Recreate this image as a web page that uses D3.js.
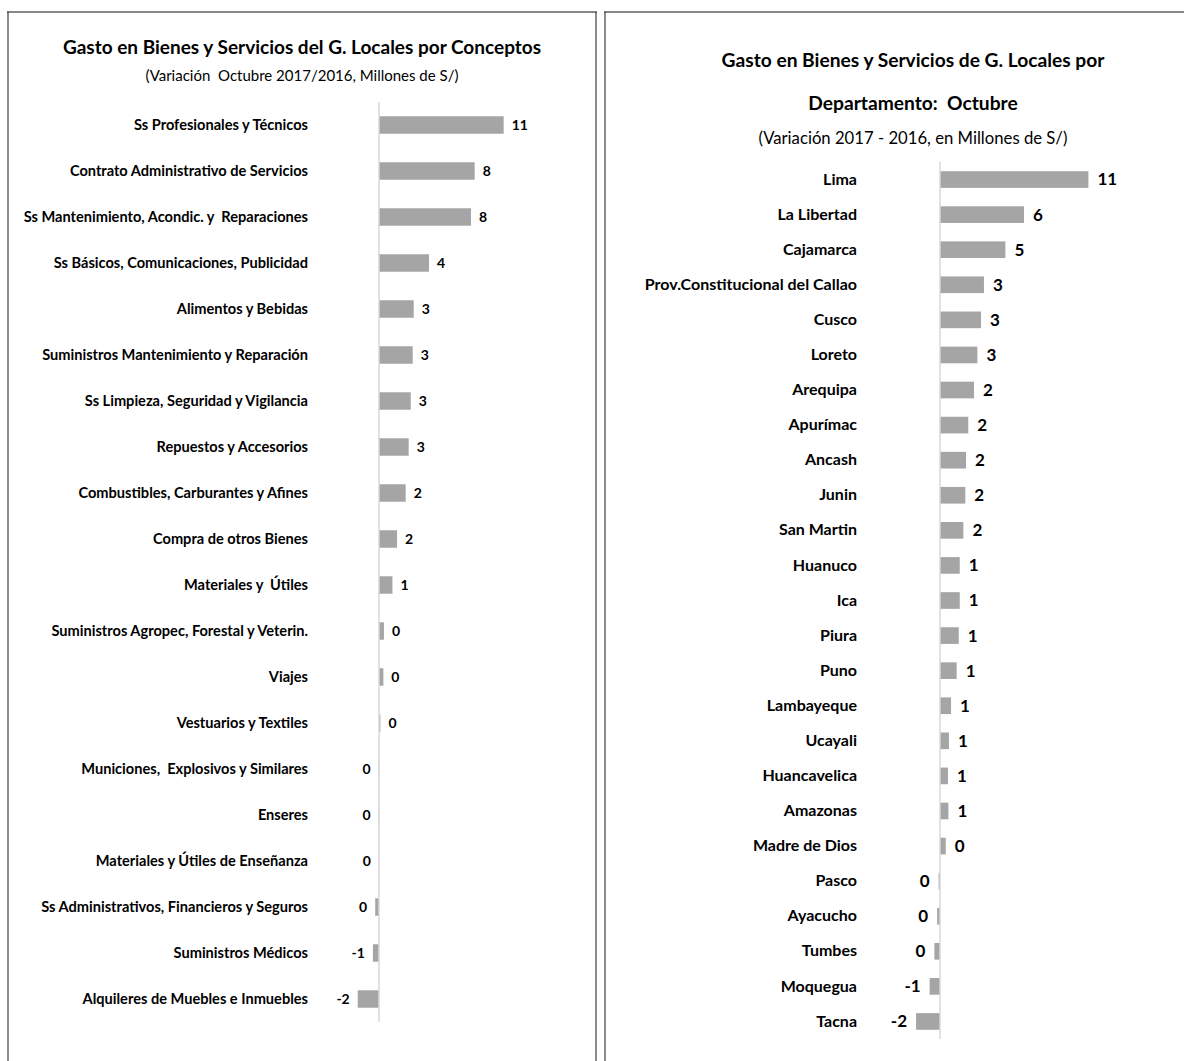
<!DOCTYPE html>
<html>
<head>
<meta charset="utf-8">
<script src="https://cdn.jsdelivr.net/npm/d3@7"></script>
<style>
  body { margin: 0; background: #fff; }
  svg { display: block; }
  text { font-family: Lato, "Open Sans", sans-serif; fill: #000; white-space: pre; }
  .bold { font-weight: bold; }
</style>
</head>
<body>
<svg id="chart"></svg>
<script>
// Left chart: by concept
var conceptNames = [
  "Ss Profesionales y Técnicos",
  "Contrato Administrativo de Servicios",
  "Ss Mantenimiento, Acondic. y  Reparaciones",
  "Ss Básicos, Comunicaciones, Publicidad",
  "Alimentos y Bebidas",
  "Suministros Mantenimiento y Reparación",
  "Ss Limpieza, Seguridad y Vigilancia",
  "Repuestos y Accesorios",
  "Combustibles, Carburantes y Afines",
  "Compra de otros Bienes",
  "Materiales y  Útiles",
  "Suministros Agropec, Forestal y Veterin.",
  "Viajes",
  "Vestuarios y Textiles",
  "Municiones,  Explosivos y Similares",
  "Enseres",
  "Materiales y Útiles de Enseñanza",
  "Ss Administrativos, Financieros y Seguros",
  "Suministros Médicos",
  "Alquileres de Muebles e Inmuebles"
];
var conceptValues = [10.84, 8.32, 8.0, 4.35, 3.02, 2.93, 2.76, 2.58, 2.32, 1.57,
  1.17, 0.43, 0.38, 0.12, -0.03, -0.03, -0.02, -0.33, -0.53, -1.85];

// Right chart: by department
var deptNames = [
  "Lima", "La Libertad", "Cajamarca", "Prov.Constitucional del Callao", "Cusco",
  "Loreto", "Arequipa", "Apurímac", "Ancash", "Junin", "San Martin", "Huanuco",
  "Ica", "Piura", "Puno", "Lambayeque", "Ucayali", "Huancavelica", "Amazonas",
  "Madre de Dios", "Pasco", "Ayacucho", "Tumbes", "Moquegua", "Tacna"
];
var deptValues = [10.6, 6.0, 4.67, 3.14, 2.93, 2.67, 2.43, 2.02, 1.86, 1.81, 1.67,
  1.41, 1.41, 1.34, 1.19, 0.79, 0.64, 0.57, 0.6, 0.41, -0.1, -0.2, -0.4, -0.74, -1.71];

var W = 1184, H = 1061;
var svg = d3.select("#chart").attr("width", W).attr("height", H);

function panel(x0, x1) {
  var g = svg.append("g");
  g.append("line").attr("x1", x0).attr("x2", x0).attr("y1", 12).attr("y2", H)
    .attr("stroke", "#8c8c8c").attr("stroke-width", 2);
  if (x1 < W) {
    g.append("line").attr("x1", x1).attr("x2", x1).attr("y1", 12).attr("y2", H)
      .attr("stroke", "#8c8c8c").attr("stroke-width", 2);
  }
  g.append("line").attr("x1", x0 - 1).attr("x2", Math.min(x1 + 1, W)).attr("y1", 12).attr("y2", 12)
    .attr("stroke", "#111").attr("stroke-width", 1.2);
  return g;
}

function fmt(v) {
  var r = Math.round(v);
  return r === 0 ? "0" : String(r);
}

function barChart(g, o) {
  var data = o.names.map(function(n, i) { return { name: n, value: o.values[i] }; });

  var y = d3.scaleBand()
    .domain(o.names)
    .range(o.yRange)
    .paddingInner(o.pad)
    .paddingOuter(o.pad / 2);

  var x = d3.scaleLinear()
    .domain([-3, 12])
    .range([o.zero - 3 * o.unit, o.zero + 12 * o.unit]);

  // category axis (labels only)
  var axis = d3.axisLeft(y).tickSize(0).tickPadding(0);
  var ax = g.append("g")
    .attr("transform", "translate(" + o.labelX + ",0)")
    .call(axis);
  ax.select(".domain").remove();
  ax.selectAll("text")
    .attr("class", "bold")
    .style("font-size", o.labelSize + "px")
    .attr("fill", "#000");
  ax.attr("font-family", null).attr("font-size", null);

  g.selectAll(".bar")
    .data(data)
    .enter().append("rect")
    .attr("class", "bar")
    .attr("x", function(d) { return x(Math.min(0, d.value)); })
    .attr("y", function(d) { return y(d.name); })
    .attr("width", function(d) { return Math.abs(x(d.value) - x(0)); })
    .attr("height", y.bandwidth())
    .attr("fill", "#a5a5a5");

  // zero line
  g.append("line")
    .attr("x1", x(0)).attr("x2", x(0))
    .attr("y1", o.yRange[0]).attr("y2", o.yRange[1])
    .attr("stroke", "#d9d9d9").attr("stroke-width", 1.5);

  g.selectAll(".val")
    .data(data)
    .enter().append("text")
    .attr("class", "val bold")
    .attr("x", function(d) { return d.value < 0 ? x(d.value) - o.valGap : x(d.value) + o.valGap; })
    .attr("y", function(d) { return y(d.name) + y.bandwidth() / 2; })
    .attr("dy", "0.35em")
    .attr("text-anchor", function(d) { return d.value < 0 ? "end" : "start"; })
    .style("font-size", o.valSize + "px")
    .text(function(d) { return fmt(d.value); });
}

// Left panel
var left = panel(8, 596);
left.append("text").attr("class", "bold").attr("x", 302).attr("y", 47).attr("dy", "0.35em")
  .attr("text-anchor", "middle").style("font-size", "19px")
  .text("Gasto en Bienes y Servicios del G. Locales por Conceptos");
left.append("text").attr("x", 302).attr("y", 76).attr("dy", "0.35em")
  .attr("text-anchor", "middle").style("font-size", "15px")
  .text("(Variación  Octubre 2017/2016, Millones de S/)");
barChart(left, {
  names: conceptNames, values: conceptValues,
  yRange: [102, 1022], pad: 0.62,
  zero: 379, unit: 11.5,
  labelX: 308, labelSize: 14.6, valSize: 14, valGap: 8
});

// Right panel
var right = panel(605, 1200);
right.append("text").attr("class", "bold").attr("x", 913).attr("y", 60).attr("dy", "0.35em")
  .attr("text-anchor", "middle").style("font-size", "19.2px")
  .text("Gasto en Bienes y Servicios de G. Locales por");
right.append("text").attr("class", "bold").attr("x", 913).attr("y", 103).attr("dy", "0.35em")
  .attr("text-anchor", "middle").style("font-size", "19.2px")
  .text("Departamento:  Octubre");
right.append("text").attr("x", 913).attr("y", 138).attr("dy", "0.35em")
  .attr("text-anchor", "middle").style("font-size", "16.7px")
  .text("(Variación 2017 - 2016, en Millones de S/)");
barChart(right, {
  names: deptNames, values: deptValues,
  yRange: [162, 1039], pad: 0.525,
  zero: 940, unit: 14,
  labelX: 857, labelSize: 16, valSize: 17, valGap: 9
});
</script>
</body>
</html>
